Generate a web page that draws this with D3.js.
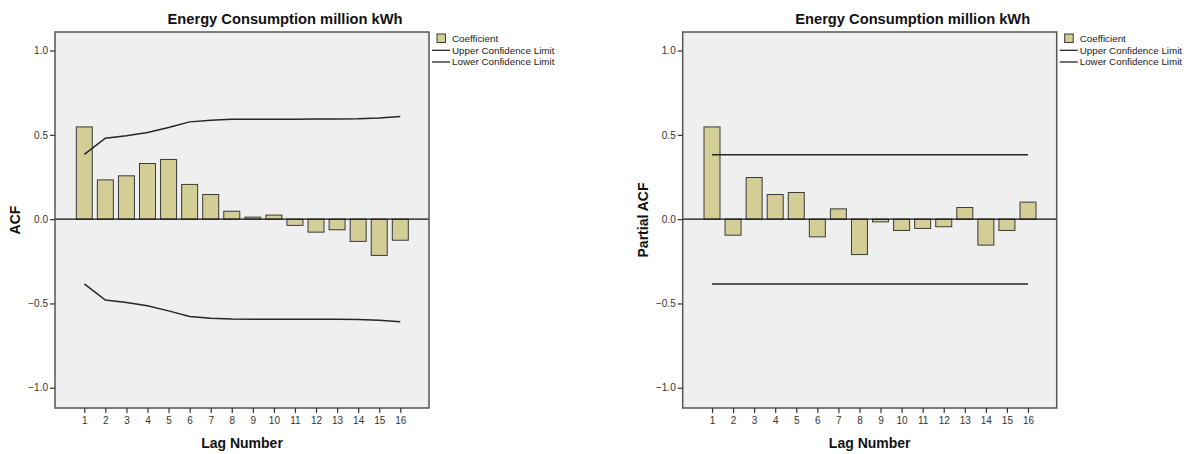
<!DOCTYPE html>
<html>
<head>
<meta charset="utf-8">
<script src="https://cdn.jsdelivr.net/npm/d3@7"></script>
<style>
  html, body { margin: 0; padding: 0; background: #ffffff; }
  svg { display: block; }
  text { font-family: "Liberation Sans", Arial, sans-serif; }
</style>
</head>
<body>
<svg id="chart" width="1195" height="454"></svg>
<script>
// ---- Data ----
const lags = [1, 2, 3, 4, 5, 6, 7, 8, 9, 10, 11, 12, 13, 14, 15, 16];
const acfValues = [0.547, 0.233, 0.257, 0.330, 0.354, 0.206, 0.146, 0.047, 0.012, 0.024, -0.037, -0.077, -0.063, -0.132, -0.215, -0.125];
const acfUpper = [0.384, 0.480, 0.494, 0.514, 0.544, 0.577, 0.587, 0.592, 0.593, 0.593, 0.593, 0.594, 0.594, 0.595, 0.600, 0.609];
const acfLower = [-0.384, -0.480, -0.494, -0.514, -0.544, -0.577, -0.587, -0.592, -0.593, -0.593, -0.593, -0.594, -0.594, -0.595, -0.600, -0.609];
const pacfValues = [0.547, -0.095, 0.247, 0.146, 0.158, -0.105, 0.061, -0.210, -0.016, -0.067, -0.055, -0.045, 0.069, -0.154, -0.067, 0.101];
const pacfUpper = [0.382, 0.382, 0.382, 0.382, 0.382, 0.382, 0.382, 0.382, 0.382, 0.382, 0.382, 0.382, 0.382, 0.382, 0.382, 0.382];
const pacfLower = [-0.384, -0.384, -0.384, -0.384, -0.384, -0.384, -0.384, -0.384, -0.384, -0.384, -0.384, -0.384, -0.384, -0.384, -0.384, -0.384];
const yTicks = [-1.0, -0.5, 0.0, 0.5, 1.0];
const chartTitle = "Energy Consumption million kWh";
const xTitle = "Lag Number";
const legendLabels = ["Coefficient", "Upper Confidence Limit", "Lower Confidence Limit"];

// ---- Style ----
const barFill = "#d3cd96";
const barStroke = "#3a3a3a";
const plotBg = "#efefef";
const frameStroke = "#555555";
const lineColor = "#262626";

const svg = d3.select("#chart");

function drawPanel(opts) {
  const left = opts.left, top = 32, width = 374, height = 376;
  const g = svg.append("g").attr("transform", `translate(${left},${top})`);

  const x = d3.scalePoint().domain(lags).range([29.3, 345.3]);
  const y = d3.scaleLinear().domain([-1.12, 1.11]).range([height, 0]);
  const barW = 16;

  // plot background
  g.append("rect").attr("x", 0).attr("y", 0).attr("width", width).attr("height", height)
    .attr("fill", plotBg);

  // bars
  g.selectAll("rect.bar").data(lags.map((l, i) => ({ lag: l, v: opts.values[i] })))
    .enter().append("rect").attr("class", "bar")
    .attr("x", d => x(d.lag) - barW / 2)
    .attr("width", barW)
    .attr("y", d => Math.min(y(d.v), y(0)))
    .attr("height", d => Math.abs(y(d.v) - y(0)))
    .attr("fill", barFill).attr("stroke", barStroke).attr("stroke-width", 1);

  // zero line
  g.append("line").attr("x1", 0).attr("x2", width).attr("y1", y(0)).attr("y2", y(0))
    .attr("stroke", "#111").attr("stroke-width", 1.3);

  // confidence lines
  const line = d3.line().x((d, i) => x(lags[i])).y(d => y(d));
  [opts.upper, opts.lower].forEach(arr => {
    g.append("path").datum(arr).attr("d", line).attr("fill", "none")
      .attr("stroke", lineColor).attr("stroke-width", 1.5);
  });

  // frame
  g.append("rect").attr("x", 0).attr("y", 0).attr("width", width).attr("height", height)
    .attr("fill", "none").attr("stroke", frameStroke).attr("stroke-width", 1.5);

  // y axis
  const yAxis = d3.axisLeft(y).tickValues(yTicks).tickFormat(d3.format(".1f"))
    .tickSize(5).tickPadding(2);
  const ya = g.append("g").call(yAxis);
  ya.select(".domain").remove();
  ya.selectAll("line").attr("stroke", "#333").attr("stroke-width", 1.2);
  ya.selectAll("text").attr("fill", "#333").style("font-size", "10px")
    .style("font-family", "'Liberation Sans', Arial, sans-serif");

  // x axis
  const xAxis = d3.axisBottom(x).tickSize(5).tickPadding(4);
  const xa = g.append("g").attr("transform", `translate(0,${height})`).call(xAxis);
  xa.select(".domain").remove();
  xa.selectAll("line").attr("stroke", "#333").attr("stroke-width", 1.2);
  xa.selectAll("text").attr("fill", "#333").style("font-size", "10px")
    .style("font-family", "'Liberation Sans', Arial, sans-serif");

  // titles
  g.append("text").attr("x", 230).attr("y", 24.3 - top).attr("text-anchor", "middle")
    .style("font-size", "14.7px").style("font-weight", "bold").attr("fill", "#111")
    .text(chartTitle);
  g.append("text").attr("x", width / 2).attr("y", 447.5 - top).attr("text-anchor", "middle")
    .style("font-size", "14px").style("font-weight", "bold").attr("fill", "#111")
    .text(xTitle);
  g.append("text")
    .attr("transform", `translate(${opts.yTitleX - left},${220 - top}) rotate(-90)`)
    .attr("text-anchor", "middle").attr("dy", "0.35em")
    .style("font-size", "14px").style("font-weight", "bold").attr("fill", "#111")
    .text(opts.yTitle);

  // legend
  const lg = g.append("g").attr("transform", `translate(${width},0)`);
  lg.append("rect").attr("x", 8).attr("y", 2).attr("width", 8.5).attr("height", 8.5)
    .attr("fill", barFill).attr("stroke", barStroke).attr("stroke-width", 1);
  lg.append("text").attr("x", 23).attr("y", 10).style("font-size", "9.8px").attr("fill", "#222")
    .text(legendLabels[0]);
  [18.3, 30].forEach((ly, i) => {
    lg.append("line").attr("x1", 3).attr("x2", 21).attr("y1", ly).attr("y2", ly)
      .attr("stroke", lineColor).attr("stroke-width", 1.3);
    lg.append("text").attr("x", 23).attr("y", ly + 3.3).style("font-size", "9.8px").attr("fill", "#222")
      .text(legendLabels[i + 1]);
  });
}

drawPanel({ left: 55, values: acfValues, upper: acfUpper, lower: acfLower, yTitle: "ACF", yTitleX: 15.5 });
drawPanel({ left: 682.7, values: pacfValues, upper: pacfUpper, lower: pacfLower, yTitle: "Partial ACF", yTitleX: 643 });
</script>
</body>
</html>
